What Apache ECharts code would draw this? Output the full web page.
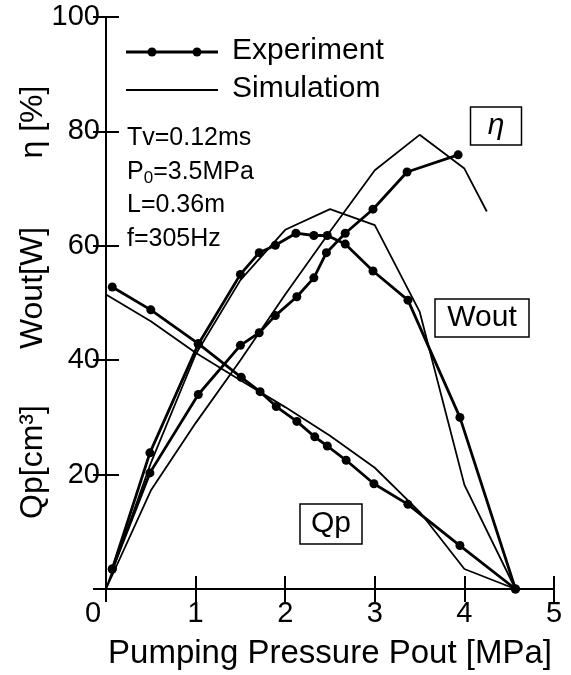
<!DOCTYPE html>
<html>
<head>
<meta charset="utf-8">
<script src="https://cdn.jsdelivr.net/npm/echarts@6/dist/echarts.min.js"></script>
<style>html,body{margin:0;padding:0;background:#fff;}#c{width:571px;height:675px;}</style>
</head>
<body>
<div id="c"></div>
<script>
// x: Pumping pressure Pout [MPa]
const etaExp = [[0.07,3.5],[0.49,20.3],[1.03,34.0],[1.50,42.6],[1.71,44.8],[1.89,47.8],[2.13,51.1],[2.32,54.4],[2.46,58.8],[2.67,62.2],[2.98,66.4],[3.36,72.9],[3.93,75.9]];
const woutExp = [[0.07,3.5],[0.49,23.8],[1.03,42.8],[1.50,55.0],[1.71,58.8],[1.89,60.1],[2.12,62.2],[2.32,61.8],[2.47,61.8],[2.67,60.3],[2.98,55.6],[3.37,50.5],[3.95,30.0],[4.57,0]];
const qpExp = [[0.07,52.8],[0.50,48.8],[1.03,42.9],[1.51,37.0],[1.72,34.5],[1.90,31.9],[2.13,29.3],[2.33,26.6],[2.47,25.0],[2.68,22.5],[2.99,18.4],[3.37,14.8],[3.95,7.6],[4.57,0]];
const etaSim = [[0,0],[0.5,17.2],[1.0,29.0],[1.5,40.0],[2.0,51.5],[2.5,62.5],[3.0,73.2],[3.5,79.4],[4.0,73.5],[4.25,66.0]];
const woutSim = [[0,0],[0.5,22.0],[1.0,41.0],[1.5,54.0],[2.0,62.8],[2.5,66.4],[3.0,63.6],[3.5,48.5],[4.0,18.2],[4.57,0]];
const qpSim = [[0,51.5],[0.5,46.8],[1.0,41.3],[1.5,36.5],[2.0,31.8],[2.5,26.8],[3.0,21.2],[3.5,13.5],[4.0,3.5],[4.57,0]];
const xTickLabels = ['0','1','2','3','4','5'];
const yTickLabels = ['','20','40','60','80','100'];
const notes = ['Tv=0.12ms','{a|P}{b|0}{a|=3.5MPa}','L=0.36m','f=305Hz'];

const FONT = 'Liberation Sans, Arial, Helvetica, sans-serif';
const chart = echarts.init(document.getElementById('c'));
const axisCommon = {
  type:'value', splitLine:{show:false},
  axisLine:{show:true,lineStyle:{color:'#000',width:2}},
  axisTick:{show:true,inside:true,length:13,lineStyle:{color:'#000',width:2}}
};
function expSeries(data){
  return {type:'line',data:data,symbol:'circle',symbolSize:9,showSymbol:true,
    lineStyle:{color:'#000',width:2.8},itemStyle:{color:'#000'},z:3};
}
function simSeries(data){
  return {type:'line',data:data,symbol:'none',lineStyle:{color:'#000',width:1.8},z:2};
}
const noteGraphics = notes.map((t,i)=>({
  type:'text', left:127, top:126+i*33.5,
  style:{text:t, font:'25px '+FONT, fill:'#000',
    rich:{a:{font:'25px '+FONT, fill:'#000'}, b:{font:'17px '+FONT, fill:'#000', padding:[12,0,0,0]}}}
}));
function boxText(text, cx, cy, w, h, font){
  return {type:'group', x:cx, y:cy, children:[
    {type:'rect', shape:{x:-w/2,y:-h/2,width:w,height:h}, style:{fill:'#fff',stroke:'#000',lineWidth:1.5}},
    {type:'text', style:{text:text, x:0, y:0, font:font, fill:'#000', align:'center', verticalAlign:'middle', textAlign:'center', textVerticalAlign:'middle'}}
  ]};
}
function vText(text, cx, cy, font){
  return {type:'text', x:cx, y:cy, rotation:Math.PI/2,
    style:{text:text, x:0, y:0, font:font, fill:'#000', align:'center', verticalAlign:'middle', textAlign:'center', textVerticalAlign:'middle'}};
}
chart.setOption({
  animation:false,
  grid:{left:106,right:17,top:17,bottom:81,containLabel:false},
  xAxis:[
    Object.assign({}, axisCommon, {min:0,max:5,interval:1,position:'bottom',
      axisLabel:{color:'#000',fontSize:29,fontFamily:FONT,margin:10,
        formatter:(v)=>{const s=xTickLabels[Math.round(v)]; return v===0?'{z|'+s+'}':s;},
        rich:{z:{fontSize:29,fontFamily:FONT,color:'#000',padding:[0,26,0,0]}}},
      name:'Pumping Pressure Pout [MPa]', nameLocation:'middle', nameGap:48,
      nameTextStyle:{color:'#000',fontSize:33,fontFamily:FONT}}),
    Object.assign({}, axisCommon, {min:0,max:5,interval:1,position:'top',axisLabel:{show:false}})
  ],
  yAxis:[
    Object.assign({}, axisCommon, {min:0,max:100,interval:20,position:'left',
      axisLabel:{color:'#000',fontSize:29,fontFamily:FONT,margin:6,
        formatter:(v)=>yTickLabels[Math.round(v/20)]}}),
    Object.assign({}, axisCommon, {min:0,max:100,interval:20,position:'right',axisLabel:{show:false}})
  ],
  series:[
    expSeries(etaExp), expSeries(woutExp), expSeries(qpExp),
    simSeries(etaSim), simSeries(woutSim), simSeries(qpSim)
  ],
  graphic:[
    // legend
    {type:'line', shape:{x1:126,y1:52,x2:218,y2:52}, style:{stroke:'#000',lineWidth:2.8}},
    {type:'circle', shape:{cx:152,cy:52,r:4.5}, style:{fill:'#000'}},
    {type:'circle', shape:{cx:197,cy:52,r:4.5}, style:{fill:'#000'}},
    {type:'text', left:232, top:36, style:{text:'Experiment', font:'30px '+FONT, fill:'#000'}},
    {type:'line', shape:{x1:126,y1:90,x2:218,y2:90}, style:{stroke:'#000',lineWidth:1.8}},
    {type:'text', left:232, top:74, style:{text:'Simulatiom', font:'30px '+FONT, fill:'#000'}},
    ...noteGraphics,
    boxText('η', 496, 126, 51, 38, 'italic 30px '+FONT),
    boxText('Wout', 482, 318, 94, 38, '30px '+FONT),
    boxText('Qp', 331, 524, 62, 40, '30px '+FONT),
    vText('η [%]', 33, 122, '32px '+FONT),
    vText('Wout[W]', 33, 288, '32px '+FONT),
    vText('Qp[cm³]', 33, 462, '32px '+FONT)
  ]
});
</script>
</body>
</html>
